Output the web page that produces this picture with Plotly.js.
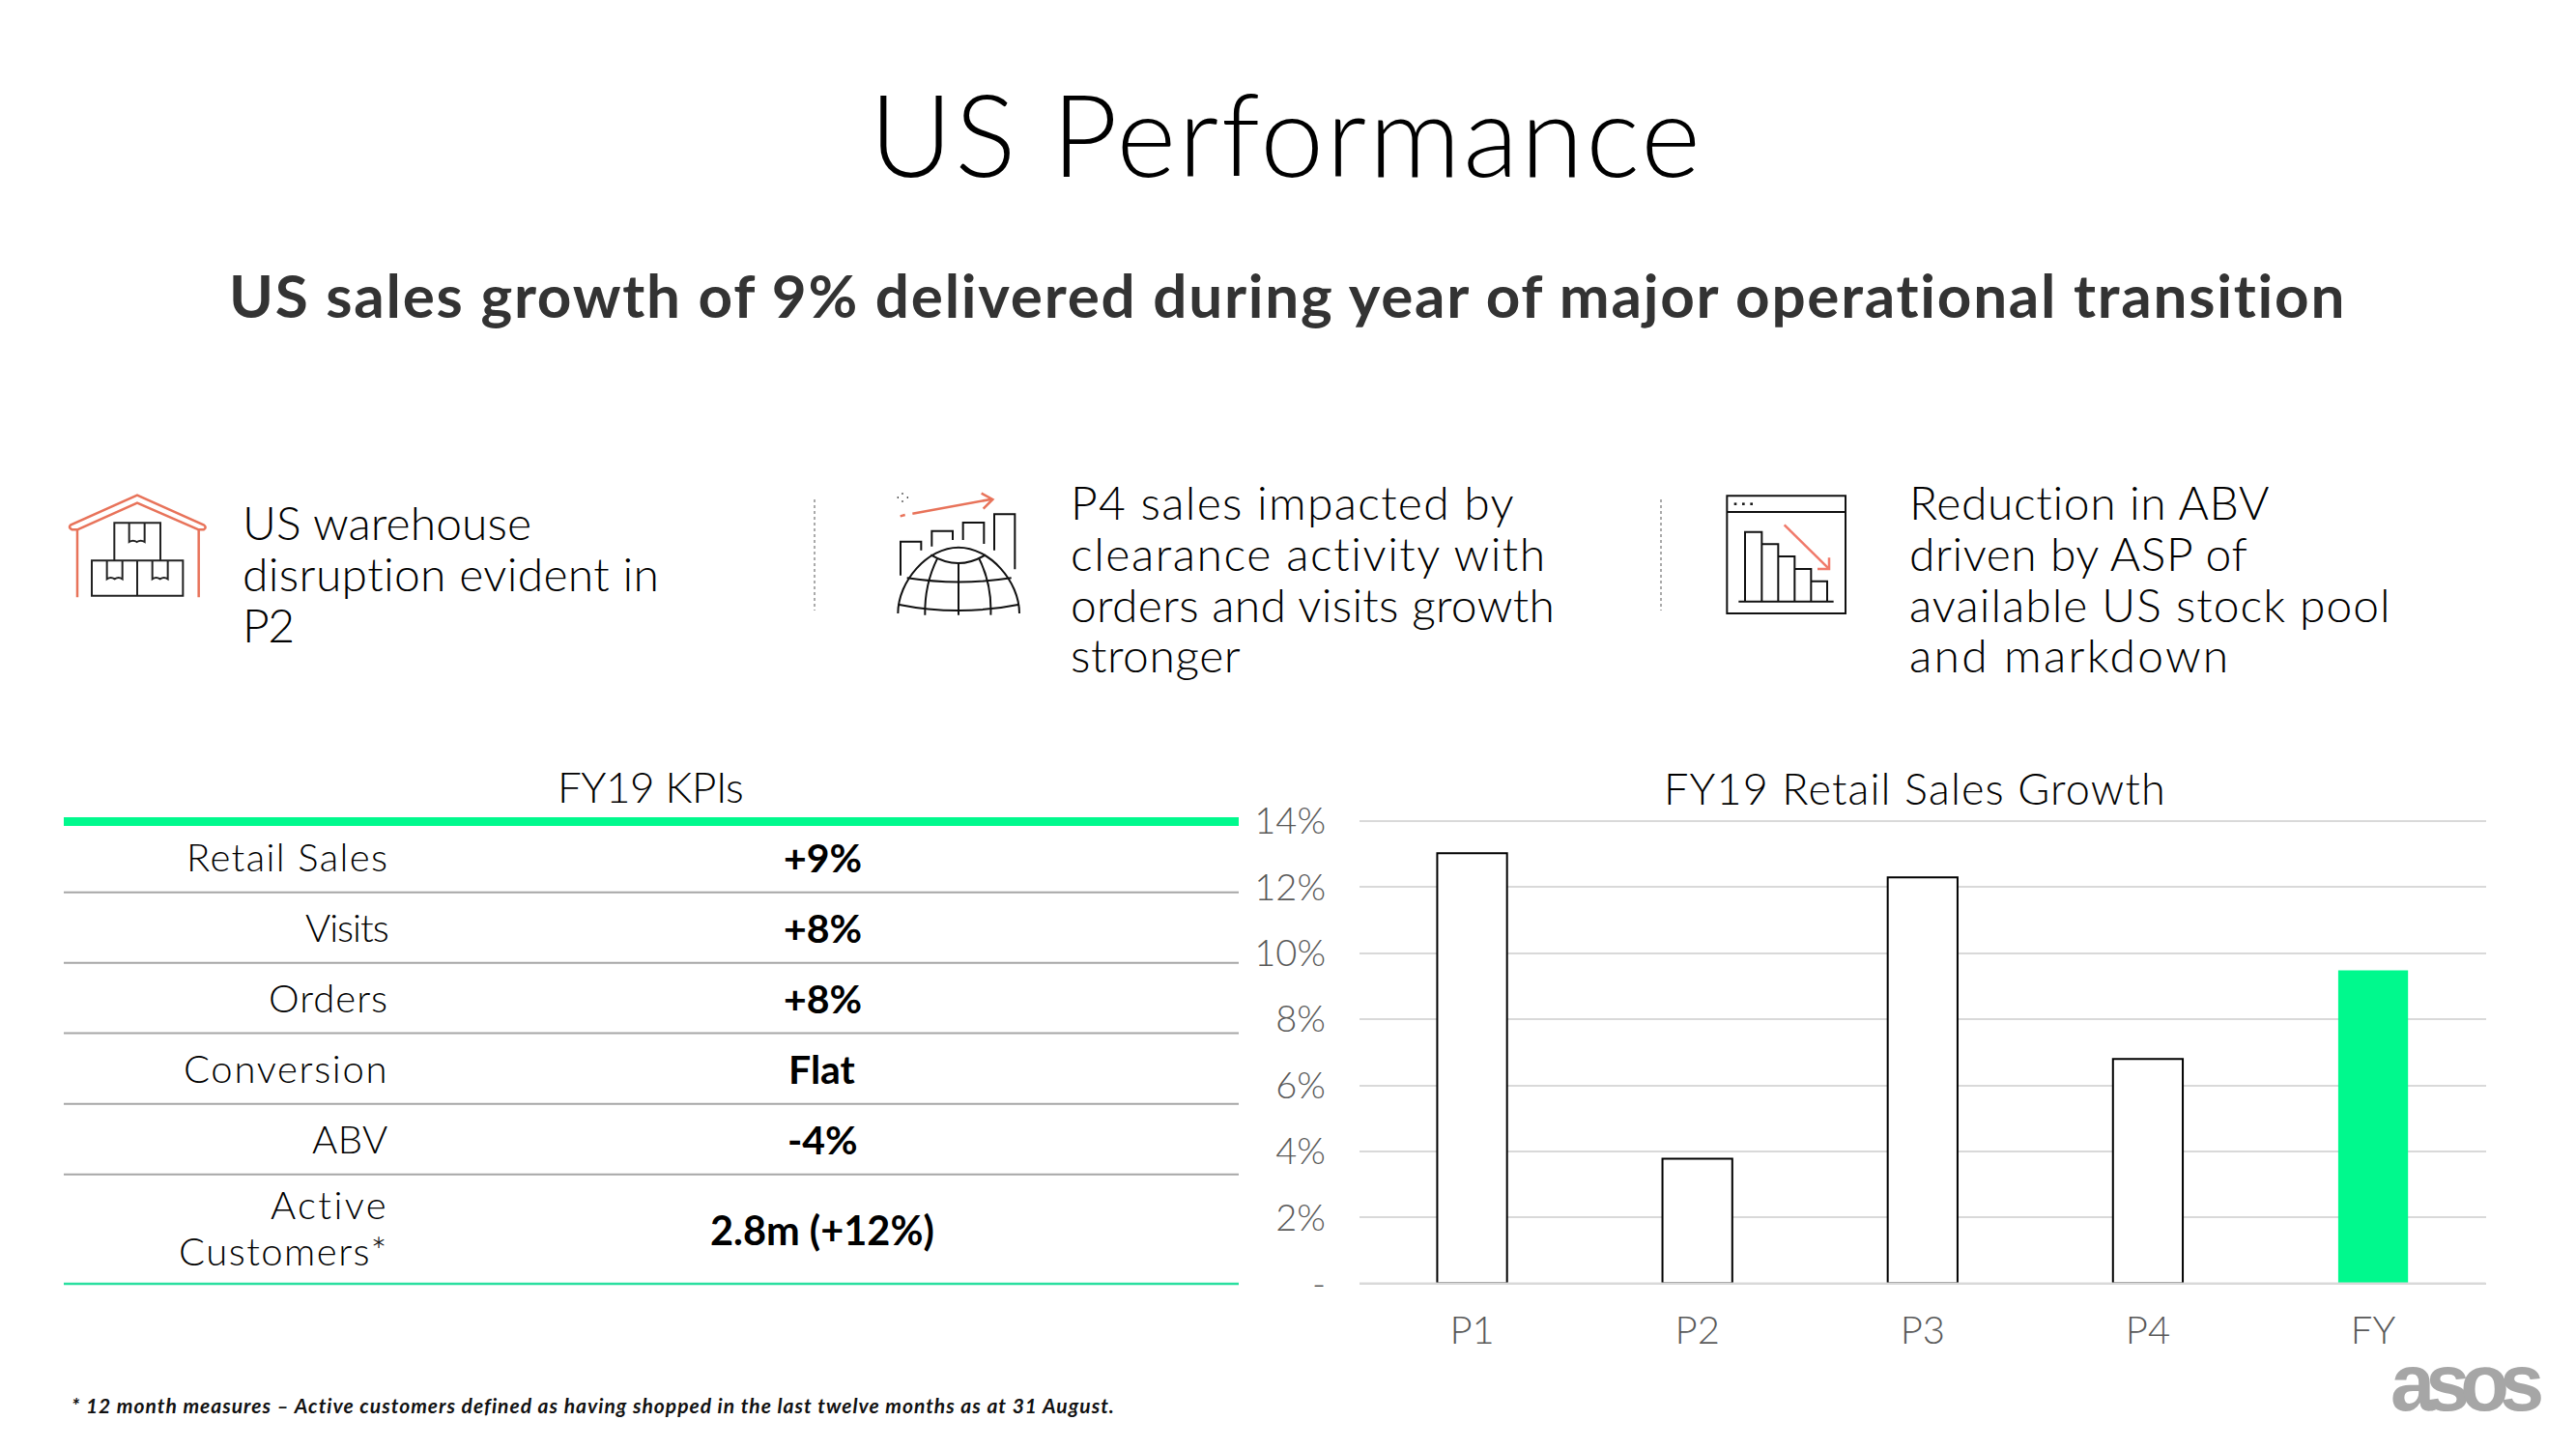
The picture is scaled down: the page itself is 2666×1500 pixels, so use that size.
<!DOCTYPE html>
<html><head><meta charset="utf-8">
<script src="https://cdn.plot.ly/plotly-3.0.1.min.js"></script>
<style>html,body{margin:0;padding:0;background:#fff}#c{width:2666px;height:1500px}</style>
</head><body><div id="c"></div>
<script>
const periods = ['P1','P2','P3','P4','FY'];
const growth = [13.03, 3.78, 12.3, 6.8, 9.48];
const yTickVals = [0,2,4,6,8,10,12,14];
const yTickText = ['-','2%','4%','6%','8%','10%','12%','14%'];
const kpiNames = ['Retail Sales','Visits','Orders','Conversion','ABV'];
const kpiValues = ['+9%','+8%','+8%','Flat','-4%','2.8m (+12%)'];
const kpiLastName = ['Active','Customers*'];
const note1 = ['US warehouse','disruption evident in','P2'];
const note2 = ['P4 sales impacted by','clearance activity with','orders and visits growth','stronger'];
const note3 = ['Reduction in ABV','driven by ASP of','available US stock pool','and markdown'];

// letter-spacing per text line, tuned to the reference's text widths
const note1Sp = [0.1,0.35,-1.5];
const note2Sp = [1.3,1.55,0.3,0.55];
const note3Sp = [0.65,0.55,1.0,2.25];
const kpiNameSp = [1.4,-1,1,1.7,0.5];
const kpiLastSp = [2.4,1.5];

const W=2666,H=1500;
const FONT='Lato', GREEN='#00F98D', CORAL='#E8735A';
const px=x=>x/W, py=y=>1-y/H;
function T(text,x,y,size,o={}){
  const sp=o.sp;
  return {text: sp!==undefined?`<span style="letter-spacing:${sp}px">${text}</span>`:text,
    xref:'paper',yref:'paper',x:px(x),y:py(y),xanchor:o.a||'left',yanchor:'middle',showarrow:false,
    font:{family:o.f||FONT,size,color:o.c||'#000',weight:o.w||300,style:o.s||'normal'}};
}
function L(x0,y0,x1,y1,color,width,dash){
  return {type:'line',xref:'paper',yref:'paper',x0:px(x0),y0:py(y0),x1:px(x1),y1:py(y1),layer:'above',
    line:{color,width,dash:dash||'solid'}};
}
function icon(ox,oy,d,color,width){
  const path=d.replace(/(-?[\d.]+) (-?[\d.]+)/g,(m,a,b)=>px(ox+a/3)+' '+py(oy+b/3));
  return {type:'path',xref:'paper',yref:'paper',path,layer:'above',line:{color,width}};
}

const shapes=[], ann=[];
// title + header
ann.push(T('US Performance',1331,138,118,{a:'center',sp:2.5}));
ann.push(T('US sales growth of 9% delivered during year of major operational transition',1332,305,62,{a:'center',w:700,c:'#333333',sp:1.75}));
// notes
[540,593,646].forEach((y,i)=>ann.push(T(note1[i],249,y,48,{c:'#000',sp:note1Sp[i]})));
[519,572,625,678].forEach((y,i)=>ann.push(T(note2[i],1106,y,48,{c:'#000',sp:note2Sp[i]})));
[519,572,625,678].forEach((y,i)=>ann.push(T(note3[i],1974,y,48,{c:'#000',sp:note3Sp[i]})));
// separators
shapes.push(L(843,517,843,632,'#555',1,'3px,3px'), L(1719,517,1719,632,'#555',1,'3px,3px'));
// table
ann.push(T('FY19 KPIs',673,814,44,{a:'center',c:'#000',sp:-0.5}));
shapes.push(L(66,850.5,1282,850.5,GREEN,9));
[923.7,996.7,1069.6,1142.7,1215.7].forEach(y=>shapes.push(L(66,y,1282,y,'#A6A6A6',2)));
shapes.push(L(66,1329,1282,1329,'#2ADFA0',2.5));
const rowY=[886.5,959.5,1032.5,1105.5,1178.5];
rowY.forEach((y,i)=>{
  ann.push(T(kpiNames[i],404,y,40,{a:'right',c:'#000',sp:kpiNameSp[i]}));
  ann.push(T(kpiValues[i],851,y+1,41,{a:'center',w:700,c:'#000'}));
});
ann.push(T(kpiLastName[0],404,1247,40,{a:'right',c:'#000',sp:kpiLastSp[0]}));
ann.push(T(kpiLastName[1],404,1295,40,{a:'right',c:'#000',sp:kpiLastSp[1]}));
ann.push(T(kpiValues[5],851,1272.5,41.5,{a:'center',w:700,c:'#000'}));
// chart title
ann.push(T('FY19 Retail Sales Growth',1982,816,45,{a:'center',c:'#000',sp:1.15}));
// footnote
ann.push(T('* 12 month measures \u2013 Active customers defined as having shopped in the last twelve months as at 31 August.',72,1454,21,{w:700,s:'italic',c:'#111',sp:1}));
// logo
ann.push(T('asos',2552,1431,83,{a:'center',f:'Liberation Sans',w:700,c:'#A6A6A6',sp:-10}));

// warehouse icon
shapes.push(icon(60,500,'M60 355 L60 145 L44 145 Q30 138 40 130 L246 38 L452 130 Q464 138 452 145 L437 145 L437 355',CORAL,2.5));
shapes.push(icon(60,500,'M60 145 L246 62 L437 145',CORAL,2.5));
['M175 240 L175 124 L318 124 L318 240','M105 241 L388 241 L388 350 L105 350 Z','M246 241 L246 350',
 'M221 124 L221 183 Q233 175 245 183 Q257 175 269 183 L269 124',
 'M152 241 L152 298 Q164 290 176 298 Q188 290 200 298 L200 241',
 'M293 241 L293 298 Q305 290 317 298 Q329 290 341 298 L341 241'
].forEach(d=>shapes.push(icon(60,500,d,'#222',2)));
// globe icon
['M35 118 L50 114','M73 110 L320 65','M287 47 L322 66 L293 95'].forEach(d=>shapes.push(icon(920,495,d,CORAL,2.5)));
['M40 48 L44 48','M26 60 L30 60','M56 60 L60 60','M40 72 L44 72'].forEach(d=>shapes.push(icon(920,495,d,'#111',1.5)));
['M36 302 L36 197 L100 197 L100 224','M133 212 L133 164 L198 164 L198 192','M230 192 L230 138 L295 138 L295 204','M327 224 L327 112 L391 112 L391 283',
 'M28 420 C28 320 120 215 216 215 C312 215 405 320 405 420','M130 238 Q216 290 300 238','M216 262 L216 425',
 'M150 250 Q110 330 112 425','M280 250 Q320 330 316 425','M56 310 Q216 335 380 310','M28 392 Q216 430 405 392'
].forEach(d=>shapes.push(icon(920,495,d,'#111',2)));
// falling chart icon
['M52 40 L420 40 L420 405 L52 405 Z','M52 90 L420 90','M108 368 L108 152 L160 152 L160 368','M160 190 L211 190 L211 368',
 'M211 228 L262 228 L262 368','M262 267 L313 267 L313 368','M313 305 L363 305 L363 368','M88 368 L383 368'
].forEach(d=>shapes.push(icon(1770,500,d,'#111',2)));
['M74 65 L82 65','M99 65 L107 65','M124 65 L132 65'].forEach(d=>shapes.push(icon(1770,500,d,'#111',2.5)));
['M230 130 L368 266','M333 267 L369 267 L369 232'].forEach(d=>shapes.push(icon(1770,500,d,'#F0796A',2.5)));

// baseline sits over the bars' bottom stroke; top gridline closes the plot
shapes.push(L(1407,1328.6,2572.6,1328.6,'#D9D9D9',2));
shapes.push({type:'line',xref:'x domain',yref:'y',x0:0,x1:1,y0:14,y1:14,layer:'below',line:{color:'#D9D9D9',width:2}});

const barColors=periods.map(p=>p==='FY'?GREEN:'#FFFFFF');
const lineColors=periods.map(p=>p==='FY'?GREEN:'#000000');
const lineWidths=periods.map(p=>p==='FY'?0:2);
const trace={type:'bar',x:periods,y:growth,width:0.31,hoverinfo:'skip',
  marker:{color:barColors,line:{color:lineColors,width:lineWidths}}};
const layout={width:W,height:H,paper_bgcolor:'#fff',plot_bgcolor:'#fff',showlegend:false,
  margin:{l:0,r:0,t:0,b:0},
  xaxis:{domain:[1407/W,2572.6/W],type:'category',categoryarray:periods,range:[-0.5,4.5],showgrid:false,
    ticks:'',showline:false,zeroline:false,ticklabelstandoff:21,
    tickfont:{family:FONT,size:40,color:'#595959',weight:300}},
  yaxis:{domain:[1-1328.6/H,1-849/H],range:[0,14.03],tickvals:yTickVals,ticktext:yTickText,
    gridcolor:'#D9D9D9',gridwidth:2,zeroline:true,zerolinecolor:'#D9D9D9',zerolinewidth:2,showline:false,ticks:'',
    ticklabelstandoff:34,tickfont:{family:FONT,size:38,color:'#595959',weight:300}},
  annotations:ann,shapes};
Plotly.newPlot('c',[trace],layout,{displayModeBar:false,staticPlot:true});
</script></body></html>
